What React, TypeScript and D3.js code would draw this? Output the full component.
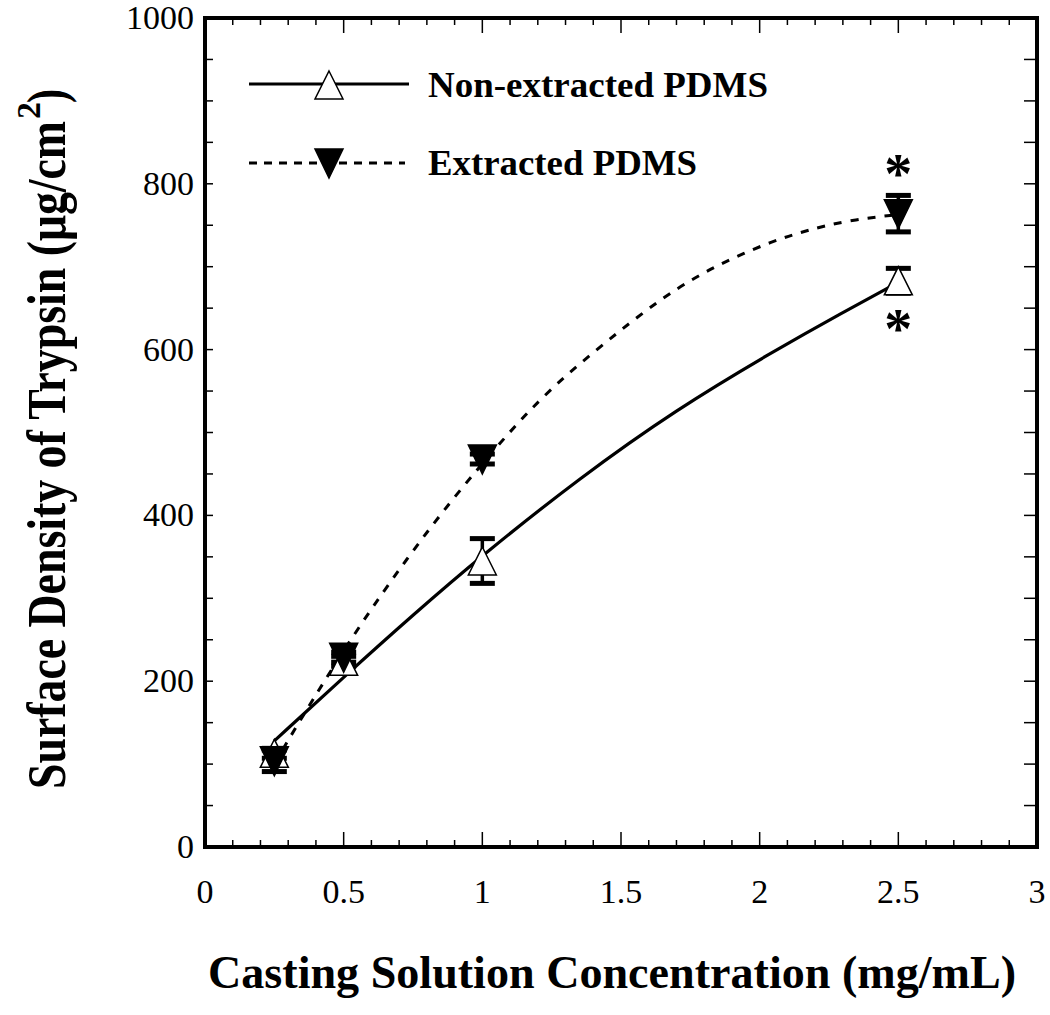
import React from "react";
import * as d3 from "d3";

const concentrations = [0.25, 0.5, 1, 2.5];
const nonExtracted = [113, 224, 345, 683];
const nonExtractedErr = [6, 6, 27, 15];
const extracted = [104, 229, 468, 764];
const extractedErr = [13, 6, 6, 22];

const fitNonX = [0.25, 0.5, 0.75, 1, 1.35, 1.7, 2.05, 2.3, 2.5];
const fitNonY = [128, 205, 280, 352, 445, 528, 598, 645, 681];
const fitExtX = [0.25, 0.3, 0.38, 0.55, 0.73, 0.89, 1.06, 1.17, 1.3, 1.5, 1.64, 1.77, 1.9, 2.04, 2.17, 2.32, 2.5];
const fitExtY = [100, 129, 173, 264, 349, 419, 486, 527, 569, 624, 660, 688, 710, 730, 744, 756, 763];

const xTickLabels = ["0", "0.5", "1", "1.5", "2", "2.5", "3"];
const yTickLabels = ["0", "200", "400", "600", "800", "1000"];
const seriesNames = ["Non-extracted PDMS", "Extracted PDMS"];
const xTitle = "Casting Solution Concentration (mg/mL)";
const yTitleMain = "Surface Density of Trypsin (\u03bcg/cm";

const W = 1050, H = 1015;
const L = 205, R = 1037, T = 18, B = 847;
const FONT = "'Liberation Serif', 'Times New Roman', serif";

export default function App() {
  const x = d3.scaleLinear().domain([0, 3]).range([L, R]);
  const y = d3.scaleLinear().domain([0, 1000]).range([B, T]);

  const line = d3.line<[number, number]>().x(d => x(d[0])).y(d => y(d[1])).curve(d3.curveBasis);
  const nonPts = fitNonX.map((v, i) => [v, fitNonY[i]] as [number, number]);
  const extPts = fitExtX.map((v, i) => [v, fitExtY[i]] as [number, number]);

  const xMinor = d3.range(0, 31).map(i => i / 10);
  const yMinor = d3.range(0, 21).map(i => i * 50);

  const up = (cx: number, cy: number, s = 14) =>
    `M${cx},${cy - s}L${cx + s},${cy + s}L${cx - s},${cy + s}Z`;
  const down = (cx: number, cy: number, s = 14) =>
    `M${cx - s},${cy - s}L${cx + s},${cy - s}L${cx},${cy + s + 1}Z`;

  const errBar = (xv: number, yv: number, e: number, key: string) => {
    const cx = x(xv);
    const y1 = y(yv + e), y2 = y(yv - e);
    return (
      <g key={key}>
        <line x1={cx} x2={cx} y1={y1} y2={y2} stroke="#000" strokeWidth={3.5} />
        <rect x={cx - 12.5} y={y1 - 2.5} width={25} height={5} fill="#000" />
        <rect x={cx - 12.5} y={y2 - 2.5} width={25} height={5} fill="#000" />
      </g>
    );
  };

  return (
    <svg width={W} height={H} style={{ display: "block", position: "absolute", left: 0, top: 0 }}>
      <rect width={W} height={H} fill="#fff" />
      {/* ticks */}
      {xMinor.map((v, i) => {
        const len = i % 5 === 0 ? 15 : 7;
        return (
          <g key={"xt" + i}>
            <line x1={x(v)} x2={x(v)} y1={B} y2={B - len} stroke="#000" strokeWidth={1.5} />
            <line x1={x(v)} x2={x(v)} y1={T} y2={T + len} stroke="#000" strokeWidth={1.5} />
          </g>
        );
      })}
      {yMinor.map((v, i) => (
        <g key={"yt" + i}>
          <line x1={L} x2={L + 8} y1={y(v)} y2={y(v)} stroke="#000" strokeWidth={1.5} />
          <line x1={R} x2={R - 13} y1={y(v)} y2={y(v)} stroke="#000" strokeWidth={1.5} />
        </g>
      ))}
      <rect x={L} y={T} width={R - L} height={B - T} fill="none" stroke="#000" strokeWidth={4} />

      {/* tick labels */}
      {xTickLabels.map((t, i) => (
        <text key={"xl" + i} x={x(i * 0.5)} y={903} textAnchor="middle" fontFamily={FONT} fontSize={34}>{t}</text>
      ))}
      {yTickLabels.map((t, i) => (
        <text key={"yl" + i} x={194} y={y(i * 200) + 11} textAnchor="end" fontFamily={FONT} fontSize={34}>{t}</text>
      ))}

      {/* axis titles */}
      <text x={208} y={988} fontFamily={FONT} fontSize={46} fontWeight="bold" textLength={808} lengthAdjust="spacingAndGlyphs">{xTitle}</text>
      <g transform="translate(65,0) rotate(-90)">
        <text x={-789} y={0} fontFamily={FONT} fontSize={54} fontWeight="bold" textLength={668} lengthAdjust="spacingAndGlyphs">{yTitleMain}</text>
        <text x={-119} y={-25} fontFamily={FONT} fontSize={34} fontWeight="bold" textLength={17} lengthAdjust="spacingAndGlyphs">2</text>
        <text x={-103} y={0} fontFamily={FONT} fontSize={54} fontWeight="bold" textLength={14} lengthAdjust="spacingAndGlyphs">)</text>
      </g>

      {/* fitted curves */}
      <path d={line(nonPts) || ""} fill="none" stroke="#000" strokeWidth={3.2} />
      <path d={line(extPts) || ""} fill="none" stroke="#000" strokeWidth={3} strokeDasharray="8,9" />

      {/* error bars */}
      {concentrations.map((c, i) => errBar(c, nonExtracted[i], nonExtractedErr[i], "en" + i))}
      {concentrations.map((c, i) => errBar(c, extracted[i], extractedErr[i], "ee" + i))}

      {/* markers */}
      {concentrations.map((c, i) => (
        <path key={"mn" + i} d={up(x(c), y(nonExtracted[i]))} fill="#fff" stroke="#000" strokeWidth={1.5} />
      ))}
      {concentrations.map((c, i) => (
        <path key={"me" + i} d={down(x(c), y(extracted[i]))} fill="#000" stroke="#000" strokeWidth={1.5} />
      ))}

      {/* significance asterisks */}
      <text x={x(2.5)} y={193} textAnchor="middle" fontFamily={FONT} fontSize={56} fontWeight="bold">*</text>
      <text x={x(2.5)} y={348} textAnchor="middle" fontFamily={FONT} fontSize={56} fontWeight="bold">*</text>

      {/* legend */}
      <line x1={249} x2={409} y1={84} y2={84} stroke="#000" strokeWidth={3} />
      <path d={up(329, 85)} fill="#fff" stroke="#000" strokeWidth={1.5} />
      <text x={428} y={97} fontFamily={FONT} fontSize={36} fontWeight="bold" textLength={340} lengthAdjust="spacingAndGlyphs">{seriesNames[0]}</text>
      <line x1={249} x2={405} y1={163} y2={163} stroke="#000" strokeWidth={3} strokeDasharray="8,7" />
      <path d={down(329, 163)} fill="#000" stroke="#000" strokeWidth={1.5} />
      <text x={428} y={175} fontFamily={FONT} fontSize={36} fontWeight="bold" textLength={269} lengthAdjust="spacingAndGlyphs">{seriesNames[1]}</text>
    </svg>
  );
}
